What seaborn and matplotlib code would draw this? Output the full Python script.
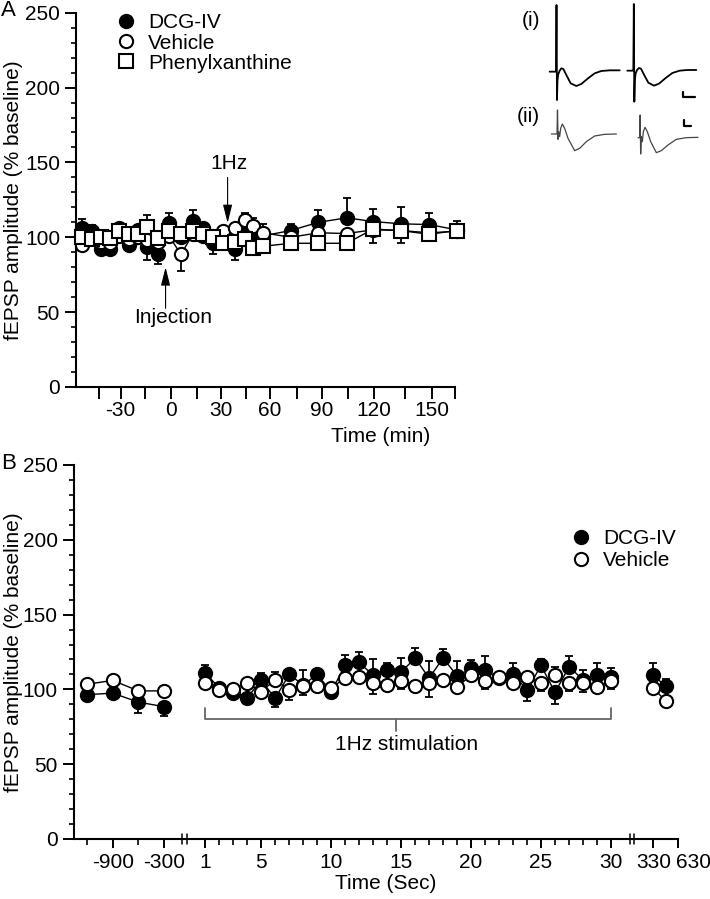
import numpy as np
import pandas as pd
import seaborn as sns
import matplotlib.pyplot as plt
from matplotlib.lines import Line2D
from matplotlib.ticker import MultipleLocator, FixedLocator, FixedFormatter
from matplotlib.transforms import blended_transform_factory, ScaledTranslation

# ---------------- Panel A data (time in min) ----------------
time_a = [-56.5, -50, -43.6, -37.4, -31, -24.9, -19.5, -14, -7.4, -1, 5.9, 12.7, 19.1,
          25.2, 31.4, 38.5, 44.6, 49.7, 55.9, 71.6, 88, 104.1, 119.4, 133, 148.2, 166.1]

dcg_a = [106, 104, 92, 92, 106, 95, 105, 93.5, 88.5, 109.5, 100, 111, 106,
         96.5, 100, 92, 104, 100, 101, 104.5, 110, 113, 110.5, 109, 108.5, 105]
dcg_a_up = [6, 4, 0, 0, 3, 0, 3, 0, 0, 6.5, 0, 7.5, 3,
            0, 0, 0, 4, 0, 0, 4.5, 8, 13.5, 8.5, 11, 7.5, 6]
dcg_a_dn = [0, 0, 2, 2, 0, 3, 0, 8.5, 6.5, 0, 0, 0, 0,
            7.5, 0, 7, 0, 5, 3, 0, 0, 0, 0, 0, 0, 0]

veh_a = [95, 101, 97, 96, 101, 99, 100, 98, 97, 101, 88.5, 102, 101,
         100, 104.5, 106, 111.5, 107.5, 103, 100, 103, 102.5, 105, 104.5, 103, 104]
veh_a_up = [0, 0, 0, 0, 0, 0, 0, 0, 0, 0, 0, 0, 0,
            0, 0, 0, 4.5, 5.5, 6, 0, 0, 0, 0, 0, 0, 0]
veh_a_dn = [0, 0, 0, 0, 0, 0, 0, 0, 0, 0, 11, 0, 0,
            0, 0, 0, 0, 0, 0, 0, 0, 0, 0, 0, 0, 0]

phx_a = [100, 99, 100, 99.5, 104, 102, 102, 107, 99.5, 104, 102.5, 104, 102,
         100.5, 96, 97, 99, 93, 94, 96, 96, 96, 105.5, 104.5, 102, 104.5]
phx_a_up = [0, 0, 0, 0, 0, 0, 0, 8, 0, 0, 0, 0, 0,
            0, 0, 0, 0, 0, 0, 0, 0, 0, 0, 0, 0, 3]
phx_a_dn = [0, 0, 0, 0, 0, 0, 0, 0, 2, 0, 0, 0, 0,
            0, 0, 0, 4, 3, 3, 0, 0, 0, 9, 8, 0, 0]

# ---------------- Panel B data (time in sec) ----------------
base_t = [-1200, -900, -600, -300]
stim_t = list(range(1, 31))
post_t = [330, 480]

dcg_b_base = [96.5, 97.5, 91.5, 88.5]
dcg_b_base_up = [0, 0, 0, 0]
dcg_b_base_dn = [0, 3.5, 7.5, 6.5]
dcg_b_stim = [111, 101, 97.5, 94.5, 106, 94, 110, 103, 110, 98.5, 116, 118, 109.5, 113, 111.5,
              121, 107.5, 121, 109, 114, 113, 107.5, 110.5, 99.5, 116, 98, 115, 106.5, 109.5, 108]
dcg_b_stim_up = [5, 0, 0, 0, 5, 0, 3, 10, 3.5, 0, 7, 7, 11, 4.5, 9.5,
                 7, 11.5, 6, 10, 5.5, 9.5, 0, 7, 0, 4.5, 0, 7, 6.5, 8, 6.5]
dcg_b_stim_dn = [0, 0, 0, 4, 0, 5.5, 0, 0, 0, 4, 0, 0, 0, 0, 0,
                 0, 0, 0, 0, 0, 0, 0, 0, 7, 0, 8, 0, 0, 0, 0]
dcg_b_post = [109.5, 102]
dcg_b_post_up = [8, 5]
dcg_b_post_dn = [0, 0]

veh_b_base = [103.5, 106, 99, 99]
veh_b_base_up = [0, 0, 0, 0]
veh_b_base_dn = [0, 0, 0, 0]
veh_b_stim = [104.5, 99.5, 100, 104.5, 98.5, 106.5, 99.5, 102.5, 102.5, 101, 107.5, 108, 104, 103, 105.5,
              102.5, 104.5, 106, 101.5, 109.5, 105.5, 108.5, 104, 108.5, 104, 109.5, 104, 104, 101.5, 105.5]
veh_b_stim_up = [0, 0, 0, 0, 0, 5, 0, 0, 0, 0, 0, 0, 0, 0, 0,
                 0, 0, 0, 0, 0, 0, 0, 0, 2, 0, 5.5, 0, 0, 0, 0]
veh_b_stim_dn = [0, 0, 0, 0, 0, 0, 6.5, 6, 0, 0, 0, 0, 7, 0, 5.5,
                 0, 9.5, 0, 0, 0, 5, 4, 0, 0, 5, 0, 5, 6, 4, 5.5]
veh_b_post = [101, 92]
veh_b_post_up = [0, 0]
veh_b_post_dn = [0, 0]

# ---------------- sample traces (arbitrary units) ----------------
tr_i1_x = [65, 80, 84, 85.5, 87, 88.5, 91, 95, 100, 106, 115, 128, 145, 160, 180, 200, 220, 245, 275]
tr_i1_y = [215, 215, 215, 15, 300, 240, 222, 212, 205, 207, 225, 250, 258, 252, 235, 220, 213, 211, 211]
tr_i2_x = [298, 313, 316, 317.5, 319, 320.5, 323, 327, 333, 339, 348, 361, 378, 393, 413, 433, 455, 478, 505]
tr_i2_y = [212, 212, 212, 12, 305, 240, 220, 210, 204, 206, 224, 248, 257, 251, 234, 219, 212, 210, 210]
tr_ii1_x = [70, 84, 87, 88.5, 90, 92, 95, 98, 103, 110, 120, 140, 155, 175, 200, 230, 265]
tr_ii1_y = [402, 402, 402, 330, 418, 395, 410, 385, 372, 385, 415, 452, 445, 425, 408, 403, 402]
tr_ii2_x = [330, 333, 335, 336.5, 338, 340, 343, 346, 351, 358, 368, 385, 400, 420, 445, 475, 510]
tr_ii2_y = [413, 413, 413, 345, 462, 410, 425, 395, 382, 395, 425, 458, 452, 435, 418, 413, 412]

FS = 15
sns.set_style('ticks')
plt.rcParams['font.family'] = ['Liberation Sans', 'DejaVu Sans']
plt.rcParams['axes.unicode_minus'] = False
plt.rcParams['font.size'] = FS
for k in ['axes.edgecolor', 'xtick.color', 'ytick.color', 'text.color', 'axes.labelcolor']:
    plt.rcParams[k] = 'black'

W, H = 710, 899
fig = plt.figure(figsize=(W / 100, H / 100), dpi=100)


def px_axes(left, top, right, bottom):
    return fig.add_axes([left / W, 1 - bottom / H, (right - left) / W, (bottom - top) / H])


def piecewise_scale(ax, kt, ku):
    # piecewise-linear time axis, extended linearly beyond the end knots
    kt = np.asarray(kt, dtype=float)
    ku = np.asarray(ku, dtype=float)
    s0 = (ku[1] - ku[0]) / (kt[1] - kt[0])
    s1 = (ku[-1] - ku[-2]) / (kt[-1] - kt[-2])
    big = 1e5
    kt = np.concatenate([[kt[0] - big], kt, [kt[-1] + big]])
    ku = np.concatenate([[ku[0] - big * s0], ku, [ku[-1] + big * s1]])
    ax.set_xscale('function', functions=(lambda t: np.interp(t, kt, ku),
                                         lambda u: np.interp(u, ku, kt)))


MS = 9.5


def draw_series(ax, df, marker, face, z):
    ax.errorbar(df['t'], df['y'], yerr=[df['dn'], df['up']], fmt='none', ecolor='black',
                elinewidth=1.3, capsize=3, capthick=1.3, zorder=z, clip_on=False)
    sns.lineplot(data=df, x='t', y='y', units='seg', estimator=None, sort=False, ax=ax,
                 color='black', lw=1, marker=marker, ms=MS, mfc=face, mec='black', mew=1.5,
                 zorder=z + 0.5, clip_on=False)


def style_axes(ax):
    sns.despine(ax=ax)
    for s in ['left', 'bottom']:
        ax.spines[s].set_linewidth(1.5)
    ax.set_ylim(0, 250)
    ax.yaxis.set_major_locator(MultipleLocator(50))
    ax.yaxis.set_minor_locator(MultipleLocator(10))
    ax.tick_params(axis='y', which='major', length=8, width=1.4, pad=3.5, labelsize=FS)
    ax.tick_params(axis='y', which='minor', length=3.8, width=1.2)
    ax.set_ylabel('fEPSP amplitude (% baseline)', fontsize=FS)


def legend_handles(specs):
    return [Line2D([], [], ls='none', marker=m, ms=MS, mfc=f, mec='black', mew=1.5, color='black', label=l)
            for m, f, l in specs]


# ================= Panel A =================
axA = px_axes(76, 12.7, 455, 387)
style_axes(axA)
piecewise_scale(axA, [-45, -30, -15, 0, 15, 30, 45, 60, 75, 90, 105, 120, 135, 150, 165],
                [99, 120.7, 145, 170.7, 196.7, 221, 245.7, 270, 296.7, 321.7, 348.3, 374.3, 405, 432.3, 455])
axA.set_xlim(-60.9, 165)

for t, y, up, dn, marker, face, z in [
        (time_a, dcg_a, dcg_a_up, dcg_a_dn, 'o', 'black', 2),
        (time_a, veh_a, veh_a_up, veh_a_dn, 'o', 'white', 3),
        (time_a, phx_a, phx_a_up, phx_a_dn, 's', 'white', 4)]:
    df = pd.DataFrame({'t': t, 'y': y, 'up': up, 'dn': dn, 'seg': 0})
    draw_series(axA, df, marker, face, z)

axA.xaxis.set_major_locator(FixedLocator([-30, 0, 30, 60, 90, 120, 150]))
axA.xaxis.set_minor_locator(FixedLocator([-45, -15, 15, 45, 75, 105, 135, 165]))
axA.tick_params(axis='x', which='both', length=8.4, width=1.4, pad=1.5, labelsize=FS)
axA.set_xlabel('Time (min)', fontsize=FS)
axA.xaxis.set_label_coords(0.805, -0.106)
axA.yaxis.set_label_coords(-0.14, 0.5)

arrow_kw = dict(arrowstyle='-|>,head_length=0.8,head_width=0.2', color='black',
                lw=0.8, mutation_scale=14, shrinkA=0, shrinkB=0)
axA.annotate('', xy=(34, 109.5), xytext=(34, 140), arrowprops=arrow_kw)
axA.text(35, 149.5, '1Hz', ha='center', va='center', fontsize=FS)
axA.annotate('', xy=(-3, 80), xytext=(-3, 52.5), arrowprops=arrow_kw)
axA.text(1.3, 46.6, 'Injection', ha='center', va='center', fontsize=FS)

fig.legend(handles=legend_handles([('o', 'black', 'DCG-IV'), ('o', 'white', 'Vehicle'),
                                   ('s', 'white', 'Phenylxanthine')]),
           loc='upper left', bbox_to_anchor=(115.5 / W, 1 - 13.5 / H), frameon=False,
           fontsize=FS, handlelength=1.0, handletextpad=0.55, labelspacing=0.05,
           borderpad=0, borderaxespad=0, numpoints=1)

fig.text(1 / W, 1 - 11 / H, 'A', fontsize=16, va='center', ha='left')

# inset traces
axT = px_axes(528, 0, 738, 180)
axT.set_xlim(0, 630)
axT.set_ylim(540, 0)
axT.axis('off')
for x, y, c, lw in [(tr_i1_x, tr_i1_y, 'black', 1.3), (tr_i2_x, tr_i2_y, 'black', 1.3),
                    (tr_ii1_x, tr_ii1_y, '#444444', 0.9), (tr_ii2_x, tr_ii2_y, '#444444', 0.9)]:
    sns.lineplot(x=x, y=y, sort=False, estimator=None, ax=axT, color=c, lw=lw)
axT.plot([465, 465, 500], [275, 290, 290], color='black', lw=1.6)
axT.plot([467, 467, 490], [360, 378, 378], color='black', lw=1.6)
fig.text(531 / W, 1 - 20 / H, '(i)', fontsize=FS, ha='center', va='center')
fig.text(528 / W, 1 - 117 / H, '(ii)', fontsize=FS, ha='center', va='center')

# ================= Panel B =================
axB = px_axes(73.8, 465, 678, 839)
style_axes(axB)
# segmented time axis: baseline (s) // 1 Hz stimulation (s) // post
piecewise_scale(axB, [-1360, -300, 1, 30, 330, 630], [73.8, 163.7, 205.2, 611.0, 653.4, 678.0])
axB.set_xlim(-1360, 630)

seg_t = base_t + stim_t + post_t
seg_id = [0] * len(base_t) + [1] * len(stim_t) + [2] * len(post_t)
for y, up, dn, face, z in [
        (dcg_b_base + dcg_b_stim + dcg_b_post, dcg_b_base_up + dcg_b_stim_up + dcg_b_post_up,
         dcg_b_base_dn + dcg_b_stim_dn + dcg_b_post_dn, 'black', 2),
        (veh_b_base + veh_b_stim + veh_b_post, veh_b_base_up + veh_b_stim_up + veh_b_post_up,
         veh_b_base_dn + veh_b_stim_dn + veh_b_post_dn, 'white', 3)]:
    df = pd.DataFrame({'t': seg_t, 'y': y, 'up': up, 'dn': dn, 'seg': seg_id})
    draw_series(axB, df, 'o', face, z)

major_b = [-900, -300, 1, 5, 10, 15, 20, 25, 30, 330, 630]
minor_b = [-1200, -600] + [s for s in stim_t if s not in major_b]
axB.xaxis.set_major_locator(FixedLocator(major_b))
# last label is written beside its tick (crowded axis end)
axB.xaxis.set_major_formatter(FixedFormatter([str(v) for v in major_b[:-1]] + ['']))
axB.xaxis.set_minor_locator(FixedLocator(minor_b))
axB.tick_params(axis='x', which='major', length=6.5, width=1.4, pad=3.5, labelsize=FS)
axB.tick_params(axis='x', which='minor', length=4, width=1.2)
axB.set_xlabel('Time (Sec)', fontsize=FS)
axB.xaxis.set_label_coords(0.517, -0.094)
axB.yaxis.set_label_coords(-0.084, 0.5)

trans = blended_transform_factory(axB.transData, axB.transAxes)
axB.annotate(str(major_b[-1]), xy=(major_b[-1], 0), xycoords=trans, xytext=(-1.5, -10),
             textcoords='offset points', ha='left', va='top', fontsize=FS, annotation_clip=False)

# axis breaks
for tb in [-150, 180]:
    for dx in (-1.6, 1.6):
        off = trans + ScaledTranslation(dx / 72, 0, fig.dpi_scale_trans)
        axB.plot([tb, tb], [-0.014, 0.014], transform=off, color='black', lw=1.1, clip_on=False)

# 1Hz stimulation bracket
axB.plot([0.5, 0.5, 30, 30], [87.5, 80, 80, 87.5], color='#666666', lw=1.3)
axB.plot([14.6, 14.6], [80, 72.5], color='#666666', lw=1.3)
axB.text(15.4, 63.5, '1Hz stimulation', ha='center', va='center', fontsize=FS)

fig.legend(handles=legend_handles([('o', 'black', 'DCG-IV'), ('o', 'white', 'Vehicle')]),
           loc='upper left', bbox_to_anchor=(571 / W, 1 - 529.5 / H), frameon=False,
           fontsize=FS, handlelength=1.0, handletextpad=0.55, labelspacing=0.12,
           borderpad=0, borderaxespad=0, numpoints=1)

fig.text(1 / W, 1 - 463 / H, 'B', fontsize=16, va='center', ha='left')

fig.savefig('out.png', dpi=100)
